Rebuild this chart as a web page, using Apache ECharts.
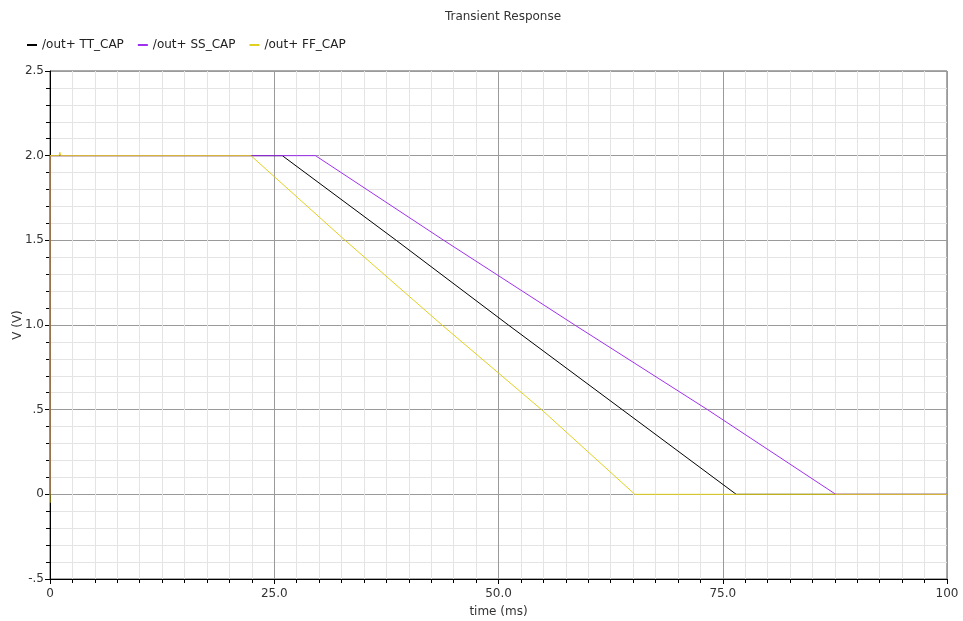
<!DOCTYPE html>
<html>
<head>
<meta charset="utf-8">
<script src="https://cdn.jsdelivr.net/npm/echarts@6/dist/echarts.min.js"></script>
<style>html,body{margin:0;padding:0;background:#fff}#c{width:963px;height:621px}</style>
</head>
<body>
<div id="c"></div>
<script>
var seriesNames = ['/out+ TT_CAP', '/out+ SS_CAP', '/out+ FF_CAP'];
var ttTime = [0, 0, 25.9, 38.6, 51.1, 63.8, 76.5, 100];
var ttVolt = [0, 2.0, 2.0, 1.5, 1.0, 0.5, 0.0, 0.0];
var ssTime = [0, 0, 29.6, 43.9, 58.5, 73.3, 87.6, 100];
var ssVolt = [0, 2.0, 2.0, 1.5, 1.0, 0.5, 0.0, 0.0];
var ffTime = [0, 0, 1.0, 1.1, 1.2, 22.4, 32.9, 43.7, 54.8, 65.2, 100];
var ffVolt = [-0.05, 2.0, 2.0, 2.02, 2.0, 2.0, 1.5, 1.0, 0.5, 0.0, 0.0];
var xTickLabels = {0: '0', 25: '25.0', 50: '50.0', 75: '75.0', 100: '100'};
var yTickLabels = {'2.5': '2.5', '2': '2.0', '1.5': '1.5', '1': '1.0', '0.5': '.5', '0': '0', '-0.5': '-.5'};
var colors = ['#000000', '#a030f0', '#e0d020'];

function pairs(t, v) { return t.map(function (x, i) { return [x, v[i]]; }); }

var chart = echarts.init(document.getElementById('c'), null, {renderer: 'canvas'});
var font = 'DejaVu Sans';
chart.setOption({
  animation: false,
  textStyle: {fontFamily: font},
  title: {
    text: 'Transient Response', left: 498, textAlign: 'center', top: 6,
    textStyle: {fontSize: 12, fontWeight: 'normal', color: '#333', fontFamily: font}
  },
  legend: {
    left: 22, top: 34, itemWidth: 10, itemHeight: 2, itemGap: 14, icon: 'rect',
    textStyle: {fontSize: 12, color: '#222', fontFamily: font},
    data: seriesNames
  },
  grid: {left: 50, right: 16, top: 71, bottom: 42, show: true, borderColor: '#555', borderWidth: 1,
    containLabel: false, outerBoundsMode: 'none'},
  xAxis: {
    type: 'value', min: 0, max: 100, interval: 25,
    name: 'time (ms)', nameLocation: 'middle', nameGap: 27, nameMoveOverlap: false,
    nameTextStyle: {fontSize: 12, color: '#333', fontFamily: font},
    axisLine: {show: true, onZero: false, lineStyle: {color: '#000'}},
    axisTick: {show: true, length: 5, lineStyle: {color: '#000'}},
    minorTick: {show: true, splitNumber: 10, length: 4, lineStyle: {color: '#000'}},
    axisLabel: {fontSize: 12, color: '#333', margin: 9, fontFamily: font,
      formatter: function (v) { return xTickLabels[v] !== undefined ? xTickLabels[v] : ''; }},
    splitLine: {show: true, lineStyle: {color: '#9a9a9a', width: 1}},
    minorSplitLine: {show: true, lineStyle: {color: '#e4e4e4', width: 1}}
  },
  yAxis: {
    type: 'value', min: -0.5, max: 2.5, interval: 0.5,
    name: 'V (V)', nameLocation: 'middle', nameGap: 26, nameRotate: 90, nameMoveOverlap: false,
    nameTextStyle: {fontSize: 12, color: '#333', fontFamily: font},
    axisLine: {show: true, onZero: false, lineStyle: {color: '#000'}},
    axisTick: {show: true, length: 5, lineStyle: {color: '#000'}},
    minorTick: {show: true, splitNumber: 5, length: 4, lineStyle: {color: '#000'}},
    axisLabel: {fontSize: 12, color: '#333', margin: 6, fontFamily: font,
      formatter: function (v) { var k = String(Math.round(v * 10) / 10); return yTickLabels[k] !== undefined ? yTickLabels[k] : ''; }},
    splitLine: {show: true, lineStyle: {color: '#9a9a9a', width: 1}},
    minorSplitLine: {show: true, lineStyle: {color: '#e4e4e4', width: 1}}
  },
  series: [
    {name: seriesNames[0], type: 'line', data: pairs(ttTime, ttVolt), symbol: 'none', color: colors[0], lineStyle: {width: 1, color: colors[0]}, z: 5},
    {name: seriesNames[1], type: 'line', data: pairs(ssTime, ssVolt), symbol: 'none', color: colors[1], lineStyle: {width: 1, color: colors[1]}, z: 6},
    {name: seriesNames[2], type: 'line', data: pairs(ffTime, ffVolt), symbol: 'none', color: colors[2], lineStyle: {width: 1, color: colors[2]}, z: 7}
  ]
});
</script>
</body>
</html>
